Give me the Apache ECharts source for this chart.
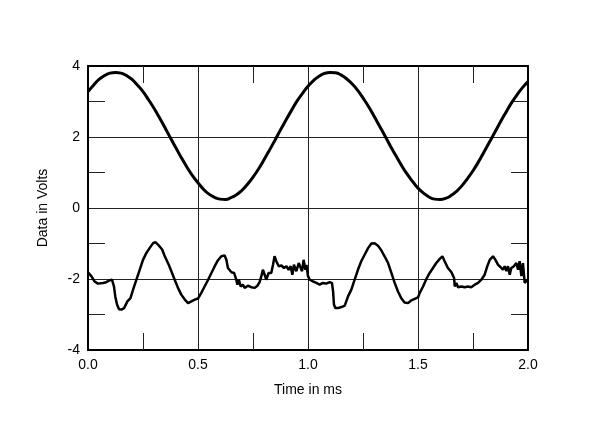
<!DOCTYPE html>
<html>
<head>
<meta charset="utf-8">
<script src="https://cdn.jsdelivr.net/npm/echarts@6/dist/echarts.min.js"></script>
<style>
html,body{margin:0;padding:0;background:#fff;}
#chart{width:600px;height:422px;}
</style>
</head>
<body>
<div id="chart"></div>
<script>
// X axis: time in ms; Y axis: volts
var xTicks = ['0.0', '0.5', '1.0', '1.5', '2.0'];
var yTicks = ['-4', '-2', '0', '2', '4'];

// Upper trace, sampled every 0.025 ms from 0.0 to 2.0
var upperStep = 0.025;
var upperVolts = [
  3.28, 3.46, 3.62, 3.73, 3.80, 3.82, 3.80, 3.73, 3.62, 3.46,
  3.28, 3.05, 2.81, 2.54, 2.26, 1.97, 1.69, 1.41, 1.15, 0.91,
  0.71, 0.53, 0.39, 0.30, 0.25, 0.24, 0.29, 0.37, 0.50, 0.67,
  0.87, 1.10, 1.36, 1.63, 1.91, 2.20, 2.48, 2.75, 3.01, 3.23,
  3.43, 3.59, 3.71, 3.79, 3.82, 3.81, 3.75, 3.64, 3.50, 3.32,
  3.10, 2.86, 2.59, 2.31, 2.03, 1.74, 1.47, 1.20, 0.96, 0.75,
  0.56, 0.42, 0.31, 0.25, 0.24, 0.27, 0.35, 0.47, 0.63, 0.83,
  1.05, 1.30, 1.58, 1.86, 2.14, 2.43, 2.70, 2.96, 3.19, 3.39,
  3.56
];

// Lower (noisy) trace
var lowerTime = [
  0, 0.015, 0.03, 0.045, 0.068, 0.083, 0.098, 0.109, 0.118, 0.124,
  0.132, 0.141, 0.152, 0.164, 0.179, 0.193, 0.205, 0.22, 0.235, 0.25,
  0.265, 0.28, 0.296, 0.306, 0.318, 0.337, 0.349, 0.367, 0.382, 0.394,
  0.409, 0.424, 0.44, 0.455, 0.47, 0.485, 0.5, 0.515, 0.53, 0.546,
  0.561, 0.576, 0.591, 0.606, 0.621, 0.629, 0.636, 0.652, 0.664, 0.674,
  0.679, 0.686, 0.694, 0.704, 0.712, 0.727, 0.742, 0.758, 0.77, 0.78,
  0.788, 0.795, 0.803, 0.81, 0.821, 0.833, 0.841, 0.848, 0.856, 0.867,
  0.879, 0.891, 0.902, 0.912, 0.921, 0.929, 0.936, 0.947, 0.958, 0.967,
  0.973, 0.98, 0.988, 0.993, 1.0, 1.008, 1.023, 1.038, 1.053, 1.068,
  1.083, 1.098, 1.109, 1.114, 1.118, 1.124, 1.136, 1.152, 1.167, 1.182,
  1.197, 1.212, 1.227, 1.242, 1.258, 1.273, 1.288, 1.303, 1.318, 1.333,
  1.348, 1.364, 1.379, 1.394, 1.409, 1.424, 1.439, 1.455, 1.47, 1.485,
  1.5, 1.508, 1.523, 1.538, 1.553, 1.568, 1.583, 1.598, 1.611, 1.621,
  1.636, 1.652, 1.664, 1.667, 1.674, 1.682, 1.697, 1.712, 1.727, 1.742,
  1.758, 1.773, 1.788, 1.803, 1.815, 1.826, 1.841, 1.852, 1.864, 1.876,
  1.886, 1.894, 1.902, 1.909, 1.917, 1.924, 1.936, 1.947, 1.955, 1.962,
  1.97, 1.977, 1.985, 1.994, 2.0
];
var lowerVolts = [
  -1.81, -1.92, -2.07, -2.13, -2.11, -2.09, -2.04, -2.02, -2.21, -2.49,
  -2.72, -2.85, -2.86, -2.82, -2.63, -2.54, -2.30, -2.02, -1.74, -1.46,
  -1.27, -1.13, -0.99, -0.96, -1.03, -1.17, -1.36, -1.60, -1.83, -2.02,
  -2.25, -2.44, -2.58, -2.68, -2.63, -2.58, -2.55, -2.39, -2.21, -2.02,
  -1.83, -1.64, -1.47, -1.36, -1.34, -1.46, -1.69, -1.81, -1.83, -2.02,
  -2.16, -2.02, -2.21, -2.16, -2.25, -2.19, -2.23, -2.25, -2.19, -2.09,
  -1.92, -1.74, -1.88, -2.02, -1.83, -1.83, -1.60, -1.36, -1.50, -1.64,
  -1.62, -1.69, -1.64, -1.74, -1.64, -1.88, -1.60, -1.78, -1.55, -1.50,
  -1.78, -1.46, -1.74, -1.60, -1.92, -2.02, -2.07, -2.11, -2.16, -2.11,
  -2.13, -2.09, -2.11, -2.35, -2.72, -2.82, -2.82, -2.79, -2.75, -2.49,
  -2.30, -2.02, -1.74, -1.50, -1.31, -1.13, -1.00, -0.99, -1.06, -1.19,
  -1.36, -1.55, -1.83, -2.11, -2.35, -2.54, -2.66, -2.68, -2.60, -2.56,
  -2.52, -2.39, -2.21, -2.00, -1.83, -1.69, -1.55, -1.44, -1.36, -1.50,
  -1.69, -1.81, -1.97, -2.21, -2.11, -2.23, -2.21, -2.23, -2.21, -2.23,
  -2.16, -2.11, -2.02, -1.88, -1.64, -1.46, -1.36, -1.46, -1.60, -1.67,
  -1.74, -1.64, -1.78, -1.64, -1.88, -1.69, -1.64, -1.55, -1.74, -1.50,
  -1.92, -1.55, -2.11, -2.16, -2.02
];

var upperData = upperVolts.map(function (v, i) { return [i * upperStep, v]; });
var lowerData = lowerTime.map(function (t, i) { return [t, lowerVolts[i]]; });

var FONT = '"Liberation Sans", Arial, sans-serif';
var frameLine = { show: true, onZero: false, lineStyle: { color: '#000', width: 2 } };
var grid = { show: true, lineStyle: { color: '#222', width: 1 } };
var minor = { show: true, splitNumber: 2, length: 17, lineStyle: { color: '#222', width: 1 } };
var labelStyle = { color: '#000', fontSize: 14, fontFamily: FONT };

var chart = echarts.init(document.getElementById('chart'), null, { renderer: 'canvas' });
chart.setOption({
  backgroundColor: '#fff',
  animation: false,
  grid: { left: 88, right: 72, top: 66, bottom: 72, containLabel: false },
  xAxis: [{
    type: 'value', position: 'bottom', min: 0, max: 2, interval: 0.5,
    name: 'Time in ms', nameLocation: 'middle', nameGap: 33,
    nameTextStyle: labelStyle,
    axisLine: frameLine,
    axisTick: { show: false, inside: true },
    minorTick: minor,
    splitLine: grid,
    axisLabel: { color: '#000', fontSize: 14, fontFamily: FONT, margin: 8,
      formatter: function (v) { return xTicks[Math.round(v / 0.5)]; } }
  }, {
    type: 'value', position: 'top', min: 0, max: 2, interval: 0.5,
    axisLine: frameLine,
    axisTick: { show: false, inside: true },
    minorTick: minor,
    splitLine: { show: false },
    axisLabel: { show: false }
  }],
  yAxis: [{
    type: 'value', position: 'left', min: -4, max: 4, interval: 2,
    name: 'Data in Volts', nameLocation: 'middle', nameGap: 38,
    nameTextStyle: labelStyle,
    axisLine: frameLine,
    axisTick: { show: false, inside: true },
    minorTick: minor,
    splitLine: grid,
    axisLabel: { color: '#000', fontSize: 14, fontFamily: FONT, margin: 8,
      formatter: function (v) { return yTicks[Math.round((v + 4) / 2)]; } }
  }, {
    type: 'value', position: 'right', min: -4, max: 4, interval: 2,
    axisLine: frameLine,
    axisTick: { show: false, inside: true },
    minorTick: minor,
    splitLine: { show: false },
    axisLabel: { show: false }
  }],
  series: [{
    type: 'line', xAxisIndex: 0, yAxisIndex: 0, data: upperData,
    showSymbol: false, smooth: true,
    lineStyle: { color: '#000', width: 3 }
  }, {
    type: 'line', xAxisIndex: 0, yAxisIndex: 0, data: lowerData,
    showSymbol: false,
    lineStyle: { color: '#000', width: 2.5 }
  }]
});
</script>
</body>
</html>
